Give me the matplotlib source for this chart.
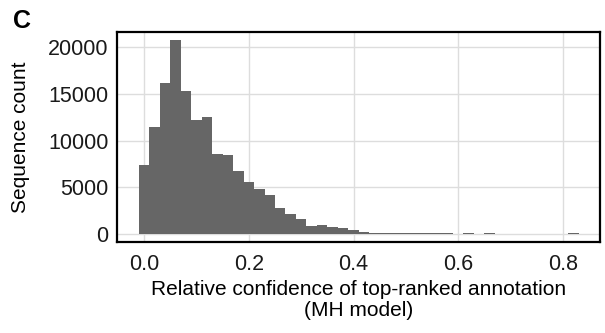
import numpy as np
import matplotlib
matplotlib.use("Agg")
import matplotlib.pyplot as plt

plt.rcParams['font.family'] = ['Liberation Sans', 'DejaVu Sans']

# histogram bins (width 0.02, centred on multiples of 0.02)
bin_centers = [round(0.02 * k, 2) for k in range(42)]
counts = [7400, 11450, 16200, 20700, 15300, 12150, 12550, 8550, 8450, 6750,
          5550, 4800, 4150, 2800, 2150, 1600, 860, 960, 750, 600,
          430, 250, 150, 130, 100, 95, 90, 85, 85, 80,
          0, 80, 0, 80, 0, 0, 0, 0, 0, 0,
          0, 80]
bin_width = 0.02

x_ticks = [0.0, 0.2, 0.4, 0.6, 0.8]
y_ticks = [0, 5000, 10000, 15000, 20000]

fig = plt.figure(figsize=(6.05, 3.33), dpi=100)
ax = fig.add_axes([0.1934, 0.2718, 0.7983, 0.6321])

ax.bar(bin_centers, counts, width=bin_width, color='#666666', linewidth=0, zorder=2)

ax.set_xlim(-0.052, 0.871)
ax.set_ylim(-900, 21600)
ax.set_xticks(x_ticks)
ax.set_xticklabels(['%.1f' % v for v in x_ticks])
ax.set_yticks(y_ticks)
ax.grid(True, color='#dddddd', linewidth=1.0, zorder=0)
ax.set_axisbelow(True)
ax.tick_params(length=0, labelsize=15.5, colors='#1a1a1a')
ax.tick_params(axis='x', pad=8)
ax.tick_params(axis='y', pad=6)
for s in ax.spines.values():
    s.set_linewidth(1.6)
    s.set_color('black')

ax.set_ylabel('Sequence count', fontsize=15, labelpad=13)
ax.set_xlabel('Relative confidence of top-ranked annotation\n(MH model)', fontsize=15,
              labelpad=4, linespacing=1.1)

fig.text(0.021, 1 - 28 / 333, 'C', fontsize=18, fontweight='bold', va='baseline', ha='left')

fig.savefig('out.png', dpi=100)
